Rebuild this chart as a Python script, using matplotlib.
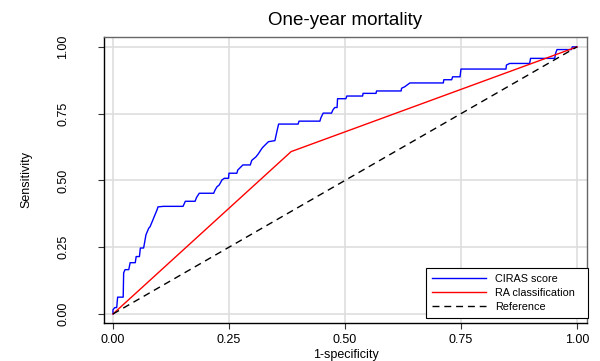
import matplotlib
matplotlib.use("Agg")
import matplotlib.pyplot as plt

plt.rcParams['font.family'] = ['Liberation Sans', 'DejaVu Sans']

# ------------------- данные -------------------
ciras_fpr = [0.0, 0.0, 0.004, 0.008, 0.010, 0.022, 0.023, 0.026, 0.034, 0.037,
             0.048, 0.050, 0.057, 0.059, 0.066, 0.068, 0.071, 0.077, 0.080, 0.086,
             0.089, 0.095, 0.097, 0.109, 0.151, 0.156, 0.177, 0.180, 0.186, 0.217,
             0.220, 0.224, 0.229, 0.235, 0.240, 0.249, 0.250, 0.267, 0.269, 0.280,
             0.296, 0.299, 0.308, 0.313, 0.321, 0.324, 0.335, 0.349, 0.354, 0.357,
             0.399, 0.401, 0.446, 0.448, 0.453, 0.471, 0.474, 0.478, 0.483, 0.484,
             0.502, 0.504, 0.538, 0.539, 0.567, 0.568, 0.621, 0.622, 0.629, 0.640,
             0.712, 0.713, 0.730, 0.732, 0.748, 0.750, 0.847, 0.848, 0.855, 0.898,
             0.900, 0.952, 0.954, 0.957, 0.988, 0.990, 1.0]
ciras_sens = [0.0, 0.016, 0.024, 0.024, 0.063, 0.063, 0.154, 0.166, 0.166, 0.192,
              0.192, 0.215, 0.215, 0.247, 0.247, 0.266, 0.296, 0.321, 0.327, 0.352,
              0.365, 0.390, 0.401, 0.403, 0.403, 0.422, 0.422, 0.436, 0.452, 0.452,
              0.464, 0.476, 0.483, 0.502, 0.508, 0.508, 0.527, 0.527, 0.539, 0.558,
              0.558, 0.575, 0.588, 0.599, 0.620, 0.626, 0.645, 0.649, 0.689, 0.711,
              0.711, 0.722, 0.722, 0.734, 0.752, 0.752, 0.764, 0.773, 0.773, 0.806,
              0.806, 0.816, 0.816, 0.826, 0.826, 0.835, 0.835, 0.845, 0.851, 0.865,
              0.865, 0.877, 0.877, 0.888, 0.888, 0.917, 0.917, 0.932, 0.938, 0.938,
              0.957, 0.957, 0.976, 0.990, 0.990, 1.0, 1.0]

ra_fpr = [0.0, 0.384, 1.0]
ra_sens = [0.0, 0.608, 1.0]

ref_x = [0.0, 1.0]
ref_y = [0.0, 1.0]

ticks = [0.0, 0.25, 0.5, 0.75, 1.0]
tick_labels = ['0.00', '0.25', '0.50', '0.75', '1.00']

# ------------------- график -------------------
fig = plt.figure(figsize=(6.0, 3.61), dpi=100)
ax = fig.add_axes([0.1733, 0.1053, 0.805, 0.7922])

ax.plot(ciras_fpr, ciras_sens, color='#0000ff', linewidth=1.0, label='CIRAS score')
ax.plot(ra_fpr, ra_sens, color='#ff0000', linewidth=1.0, label='RA classification')
ax.plot(ref_x, ref_y, color='black', linewidth=1.0, linestyle=(0, (5, 3.5)), label='Reference')

ax.set_xlim(-0.0194, 1.0216)
ax.set_ylim(-0.0337, 1.037)
ax.set_xticks(ticks)
ax.set_xticklabels(tick_labels)
ax.set_yticks(ticks)
ax.set_yticklabels(tick_labels, rotation=90, va='center')
ax.tick_params(labelsize=9, length=4, width=0.8, color='#333333')
ax.tick_params(axis='x', pad=4)
ax.tick_params(axis='y', pad=21)
ax.grid(True, color='#dedede', linewidth=1.2)
ax.set_axisbelow(True)

for side in ['left', 'bottom']:
    ax.spines[side].set_color('black')
    ax.spines[side].set_linewidth(1.0)
for side in ['top', 'right']:
    ax.spines[side].set_color('#666666')
    ax.spines[side].set_linewidth(1.0)

ax.set_title('One-year mortality', fontsize=13.5, pad=9)
ax.set_xlabel('1-specificity', fontsize=9, labelpad=2)
ax.set_ylabel('Sensitivity', fontsize=9, labelpad=18)

leg = ax.legend(loc='lower left', bbox_to_anchor=(0.6667, 0.017, 0.3354, 0.2),
                mode='expand', fontsize=7.8,
                handlelength=4.9, handletextpad=0.9, borderpad=0.6,
                labelspacing=0.35, fancybox=False, framealpha=1,
                edgecolor='black', borderaxespad=0)
leg.get_frame().set_linewidth(0.8)

fig.savefig('out.png', dpi=100)
